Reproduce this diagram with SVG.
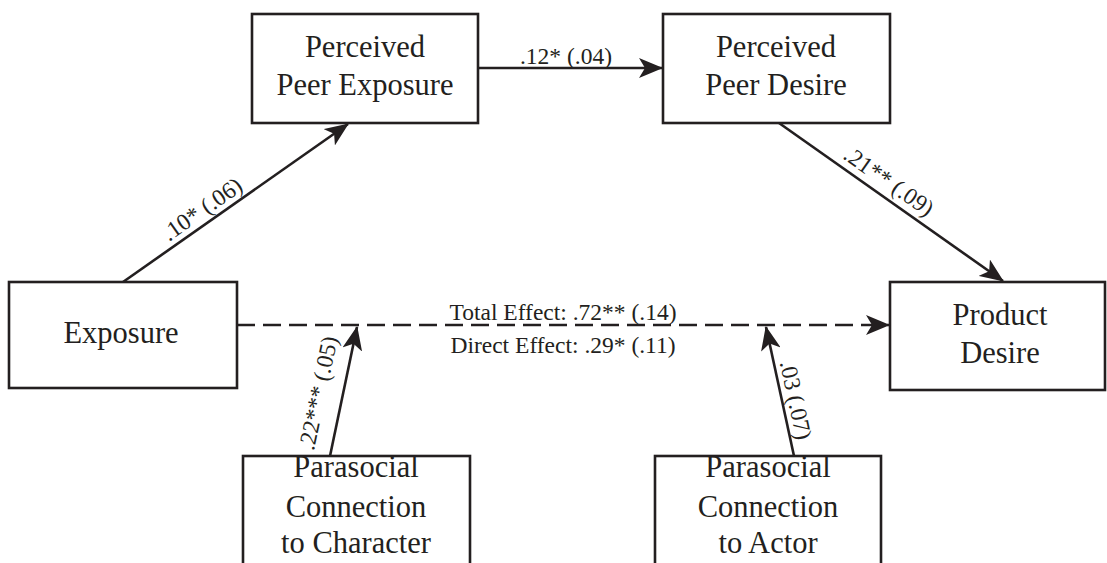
<svg xmlns="http://www.w3.org/2000/svg" width="1107" height="563" viewBox="0 0 1107 563">
<style>
.box{fill:#fff;stroke:#231f20;stroke-width:2.6}
.node{font-family:"Liberation Serif","Times New Roman",serif;font-size:30.5px;fill:#231f20;text-anchor:middle}
.lbl{font-family:"Liberation Serif","Times New Roman",serif;font-size:23.5px;fill:#231f20;text-anchor:middle}
.edge{stroke:#231f20;stroke-width:2.6;fill:none;marker-end:url(#ah)}
.dash{stroke-dasharray:18 8}
</style>
<defs>
<marker id="ah" markerUnits="userSpaceOnUse" markerWidth="24" markerHeight="20" refX="23" refY="10" orient="auto" viewBox="0 0 24 20">
<path d="M0,0 L24,10 L0,20 L6,10 z" fill="#231f20"/>
</marker>
</defs>
<rect width="1107" height="563" fill="#fff"/>
<g id="connectors">
<line class="edge" x1="123" y1="282" x2="348" y2="124"/>
<line class="edge" x1="478" y1="68" x2="662" y2="68"/>
<line class="edge" x1="779" y1="123" x2="1003" y2="281"/>
<line class="edge dash" x1="237" y1="325" x2="889" y2="325"/>
<line class="edge" x1="330" y1="456" x2="357" y2="327"/>
<line class="edge" x1="794" y1="456" x2="766" y2="327"/>
<text class="lbl" transform="translate(202,209) rotate(-35)" y="8">.10* (.06)</text>
<text class="lbl" x="566" y="64">.12* (.04)</text>
<text class="lbl" transform="translate(889,181) rotate(35)" y="8">.21** (.09)</text>
<text class="lbl" x="563" y="320">Total Effect: .72** (.14)</text>
<text class="lbl" x="563" y="353">Direct Effect: .29* (.11)</text>
<text class="lbl" transform="translate(318,393) rotate(-78)" y="8">.22*** (.05)</text>
<text class="lbl" transform="translate(796,400) rotate(78)" y="8">.03 (.07)</text>
</g>
<g id="exposure">
<rect class="box" x="9" y="282" width="228" height="106"/>
<text class="node" x="121" y="343">Exposure</text>
</g>
<g id="perceived-peer-exposure">
<rect class="box" x="252" y="14" width="226" height="109"/>
<text class="node" x="365" y="57">Perceived</text>
<text class="node" x="365" y="95">Peer Exposure</text>
</g>
<g id="perceived-peer-desire">
<rect class="box" x="663" y="14" width="227" height="109"/>
<text class="node" x="776" y="57">Perceived</text>
<text class="node" x="776" y="95">Peer Desire</text>
</g>
<g id="product-desire">
<rect class="box" x="890" y="282" width="215" height="108"/>
<text class="node" x="1000" y="325">Product</text>
<text class="node" x="1000" y="363">Desire</text>
</g>
<g id="parasocial-character">
<rect class="box" x="243" y="456" width="227" height="120"/>
<text class="node" x="356" y="477">Parasocial</text>
<text class="node" x="356" y="517">Connection</text>
<text class="node" x="356" y="553">to Character</text>
</g>
<g id="parasocial-actor">
<rect class="box" x="655" y="456" width="226" height="120"/>
<text class="node" x="768" y="477">Parasocial</text>
<text class="node" x="768" y="517">Connection</text>
<text class="node" x="768" y="553">to Actor</text>
</g>
</svg>
